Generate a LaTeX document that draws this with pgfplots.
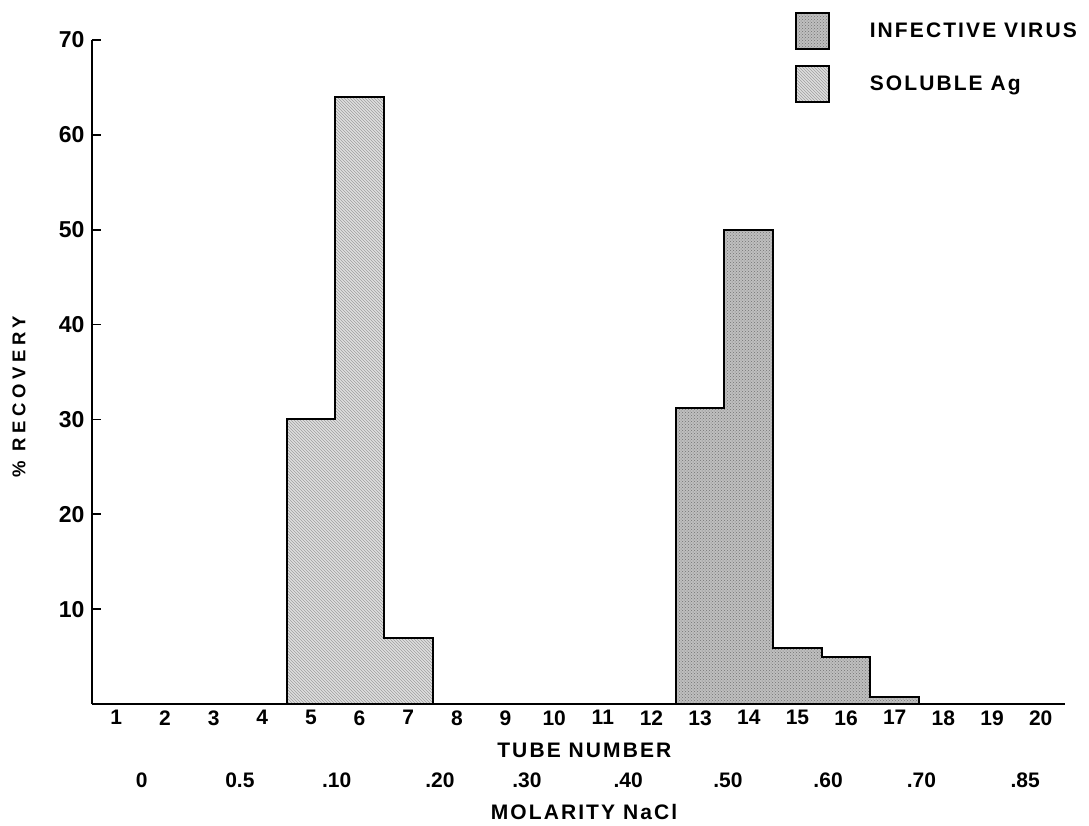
\documentclass[border=0pt]{standalone}
\usepackage{fontspec}
\setmainfont{Liberation Sans}
\newfontfamily\spaced{Liberation Sans}[LetterSpace=10]
\newfontfamily\wspaced{Liberation Sans}[LetterSpace=25]
\usepackage{pgfplots}
\pgfplotsset{compat=1.18}
\usetikzlibrary{patterns}
\newcommand{\lbl}{\spaced\bfseries\fontsize{21}{24}\selectfont}
\begin{document}
\begin{tikzpicture}
\useasboundingbox (-92pt,-121pt) rectangle (997pt,704pt);
\begin{axis}[
  name=ax,
  scale only axis, width=973pt, height=664pt,
  xmin=0.5, xmax=20.5, ymin=0, ymax=70,
  axis lines=left, axis line style={-, line width=2.6pt},
  axis on top,
  xtick={1,...,20}, ytick={10,20,...,70},
  tick align=inside, major tick length=9pt,
  tick style={line width=1.6pt, black},
  x tick style={draw=none},
  /pgf/number format/assume math mode=true,
  xticklabel style={font=\bfseries\fontsize{21}{24}\selectfont, yshift=-3pt},
  yticklabel style={font=\bfseries\fontsize{23}{26}\selectfont, xshift=-4pt},
  extra x ticks={1.52,3.54,5.53,7.65,9.44,11.52,13.57,15.63,17.55,19.68},
  extra x tick labels={0,0.5,.10,.20,.30,.40,.50,.60,.70,.85},
  extra x tick style={xticklabel style={yshift=-62pt}, tick style={draw=none}},
  xlabel={\lbl TUBE NUMBER},
  xlabel style={at={(rel axis cs:0.506,0)}, anchor=center, yshift=-46pt},
  legend style={draw=none, fill=none, at={(rel axis cs:0.7225,1.042)}, anchor=north west,
    inner sep=0pt, outer sep=0pt, row sep=15pt, font=\lbl,
    nodes={inner sep=0pt},
    /tikz/every odd column/.append style={column sep=40pt}},
  legend cell align=left,
  legend image code/.code={\draw[#1, line width=1.8pt] (0pt,-18pt) rectangle (33pt,18pt);},
]
\addplot[const plot, draw=black, line width=2pt, fill=gray!50,
  postaction={pattern=crosshatch dots, pattern color=black!55}]
  coordinates {(12.5,31.2) (13.5,50) (14.5,5.9) (15.5,5.0) (16.5,0.7) (17.5,0.7)} \closedcycle;
\addlegendentry{INFECTIVE VIRUS}
\addplot[const plot, draw=black, line width=2pt, fill=gray!25,
  postaction={pattern=north west lines, pattern color=gray!75}]
  coordinates {(4.5,30) (5.5,64) (6.5,7) (7.5,7)} \closedcycle;
\addlegendentry{SOLUBLE Ag}
\end{axis}
\node[font=\lbl, anchor=center] at ([xshift=492pt, yshift=-108pt]ax.south west) {MOLARITY NaCl};
\node[font=\wspaced\bfseries\fontsize{18.5}{21}\selectfont, anchor=center, rotate=90] at ([xshift=-73pt, yshift=307pt]ax.south west) {\% RECOVERY};
\end{tikzpicture}
\end{document}
